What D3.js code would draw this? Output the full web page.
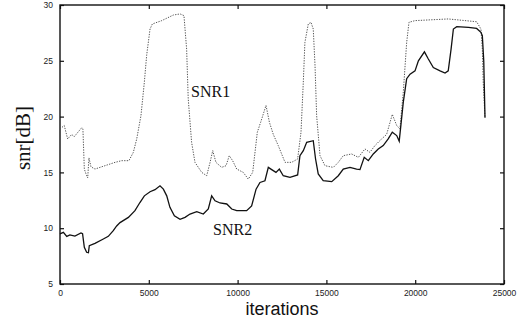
<!DOCTYPE html>
<html>
<head>
<meta charset="utf-8">
<script src="https://cdn.jsdelivr.net/npm/d3@7"></script>
<style>
  body { margin: 0; background: #fff; }
  svg { display: block; }
</style>
</head>
<body>
<div id="chart"></div>
<script>
// values
const snr1Iter = [0, 240, 430, 660, 800, 1220, 1290, 1370, 1500, 1560, 1630, 1745, 1970, 2530, 3100, 3470, 3880, 4130, 4320, 4560, 4750, 4880, 5070, 5200, 5730, 6380, 6760, 6980, 7130, 7220, 7410, 7600, 7980, 8260, 8450, 8600, 8780, 9100, 9350, 9530, 9720, 9950, 10320, 10600, 10850, 11110, 11300, 11600, 11790, 12010, 12290, 12670, 13040, 13380, 13570, 13700, 13790, 13980, 14130, 14260, 14360, 14450, 14640, 14920, 15390, 15670, 15950, 16420, 16800, 17170, 17450, 17730, 18110, 18390, 18710, 18960, 19140, 19330, 19520, 19650, 19990, 21860, 23460, 23700, 23780, 23830, 23930];
const snr1Db = [18.9, 19.2, 18.0, 18.4, 18.2, 19.0, 18.9, 15.3, 14.7, 14.5, 16.3, 15.5, 15.3, 15.6, 15.9, 16.05, 16.05, 16.8, 18.0, 20.1, 23.1, 25.5, 27.85, 28.3, 28.6, 29.1, 29.2, 29.05, 26.05, 21.6, 17.7, 15.9, 15.0, 14.7, 15.9, 16.95, 15.9, 15.45, 15.6, 16.5, 16.05, 15.3, 15.0, 14.4, 15.0, 18.6, 19.5, 21.0, 19.5, 18.4, 17.4, 15.9, 15.9, 16.2, 18.6, 23.1, 26.65, 28.3, 28.45, 27.85, 24.55, 20.1, 16.5, 15.6, 15.45, 15.9, 16.5, 16.65, 16.35, 17.1, 16.8, 17.4, 18.0, 18.4, 20.2, 19.2, 18.9, 22.2, 26.65, 28.45, 28.6, 28.75, 28.5, 27.85, 26.05, 23.1, 19.9];

const snr2Iter = [0, 190, 380, 560, 840, 1180, 1270, 1370, 1500, 1600, 1650, 1970, 2440, 2720, 3000, 3190, 3380, 3850, 4220, 4500, 4750, 5070, 5350, 5630, 5820, 6010, 6190, 6440, 6760, 7040, 7320, 7700, 8070, 8350, 8540, 8730, 9010, 9390, 9670, 9950, 10510, 10790, 11040, 11260, 11540, 11730, 11920, 12160, 12350, 12570, 12950, 13380, 13510, 13700, 13890, 14260, 14390, 14540, 14820, 15300, 15670, 15950, 16330, 16700, 16890, 17130, 17360, 17640, 17920, 18200, 18480, 18710, 18960, 19100, 19330, 19520, 19710, 19990, 20180, 20520, 20740, 21020, 21400, 21680, 21860, 22020, 22150, 22340, 23000, 23460, 23700, 23780, 23860, 23930];
const snr2Db = [9.5, 9.63, 9.27, 9.4, 9.3, 9.57, 9.5, 8.29, 7.84, 7.8, 8.43, 8.64, 9.03, 9.27, 9.78, 10.2, 10.5, 10.97, 11.57, 12.3, 12.9, 13.27, 13.45, 13.8, 13.5, 12.9, 11.87, 11.12, 10.8, 10.97, 11.27, 11.48, 11.27, 11.72, 12.9, 12.46, 12.26, 12.17, 11.72, 11.57, 11.57, 12.0, 13.5, 14.1, 14.25, 15.45, 15.25, 15.0, 15.3, 14.7, 14.56, 14.77, 16.5, 16.95, 17.7, 17.84, 16.2, 14.86, 14.26, 14.17, 14.7, 15.3, 15.45, 15.3, 15.25, 16.35, 16.05, 16.65, 17.1, 17.4, 18.0, 18.6, 18.3, 17.8, 21.3, 23.4, 23.8, 24.1, 25.0, 25.8, 25.16, 24.4, 24.1, 23.9, 24.1, 26.05, 27.85, 28.06, 28.0, 27.9, 27.55, 27.25, 25.0, 19.9];

const xTicks = [0, 5000, 10000, 15000, 20000, 25000];
const yTicks = [5, 10, 15, 20, 25, 30];
const seriesLabels = ["SNR1", "SNR2"];

const width = 521, height = 320;
const margin = { left: 60, right: 17, top: 5, bottom: 36 };

const svg = d3.select("#chart").append("svg")
  .attr("width", width)
  .attr("height", height);

const x = d3.scaleLinear().domain([0, 25000]).range([margin.left, width - margin.right]);
const y = d3.scaleLinear().domain([5, 30]).range([height - margin.bottom, margin.top]);

// axes, ticks pointing inward on all four sides
const tickFont = "'Liberation Sans', Arial, sans-serif";

const gx = svg.append("g")
  .attr("transform", `translate(0,${y(5)})`)
  .call(d3.axisBottom(x).tickValues(xTicks).tickSize(-4).tickPadding(6).tickFormat(d3.format("d")));
const gy = svg.append("g")
  .attr("transform", `translate(${x(0)},0)`)
  .call(d3.axisLeft(y).tickValues(yTicks).tickSize(-4).tickPadding(7));
const gt = svg.append("g")
  .attr("transform", `translate(0,${y(30)})`)
  .call(d3.axisTop(x).tickValues(xTicks).tickSize(-4).tickFormat(""));
const gr = svg.append("g")
  .attr("transform", `translate(${x(25000)},0)`)
  .call(d3.axisRight(y).tickValues(yTicks).tickSize(-4).tickFormat(""));

[gx, gy, gt, gr].forEach(g => {
  g.select(".domain").remove();
  g.selectAll("line").attr("stroke", "#111").attr("stroke-width", 1.2);
  g.selectAll("text")
    .style("font-family", tickFont)
    .style("font-size", "8.5px")
    .attr("fill", "#222");
});

// frame
svg.append("rect")
  .attr("x", x(0))
  .attr("y", y(30))
  .attr("width", x(25000) - x(0))
  .attr("height", y(5) - y(30))
  .attr("fill", "none")
  .attr("stroke", "#111")
  .attr("stroke-width", 1.4);

const line = d3.line()
  .x(d => x(d[0]))
  .y(d => y(d[1]));

const snr1 = d3.zip(snr1Iter, snr1Db);
const snr2 = d3.zip(snr2Iter, snr2Db);

svg.append("path")
  .datum(snr1)
  .attr("d", line)
  .attr("fill", "none")
  .attr("stroke", "#555")
  .attr("stroke-width", 1)
  .attr("stroke-dasharray", "1.3,1.3");

svg.append("path")
  .datum(snr2)
  .attr("d", line)
  .attr("fill", "none")
  .attr("stroke", "#111")
  .attr("stroke-width", 1.3);

// series labels
const serif = "'Liberation Serif', 'Times New Roman', serif";
svg.append("text")
  .attr("x", 191).attr("y", 97)
  .style("font-family", serif).style("font-size", "16px")
  .attr("fill", "#111")
  .text(seriesLabels[0]);
svg.append("text")
  .attr("x", 213).attr("y", 235)
  .style("font-family", serif).style("font-size", "16px")
  .attr("fill", "#111")
  .text(seriesLabels[1]);

// axis titles
svg.append("text")
  .attr("transform", "translate(30,138) rotate(-90)")
  .attr("text-anchor", "middle")
  .style("font-family", serif).style("font-size", "21px")
  .attr("fill", "#111")
  .text("snr[dB]");

svg.append("text")
  .attr("x", 282).attr("y", 315)
  .attr("text-anchor", "middle")
  .style("font-family", tickFont).style("font-size", "18px")
  .attr("fill", "#111")
  .text("iterations");
</script>
</body>
</html>
